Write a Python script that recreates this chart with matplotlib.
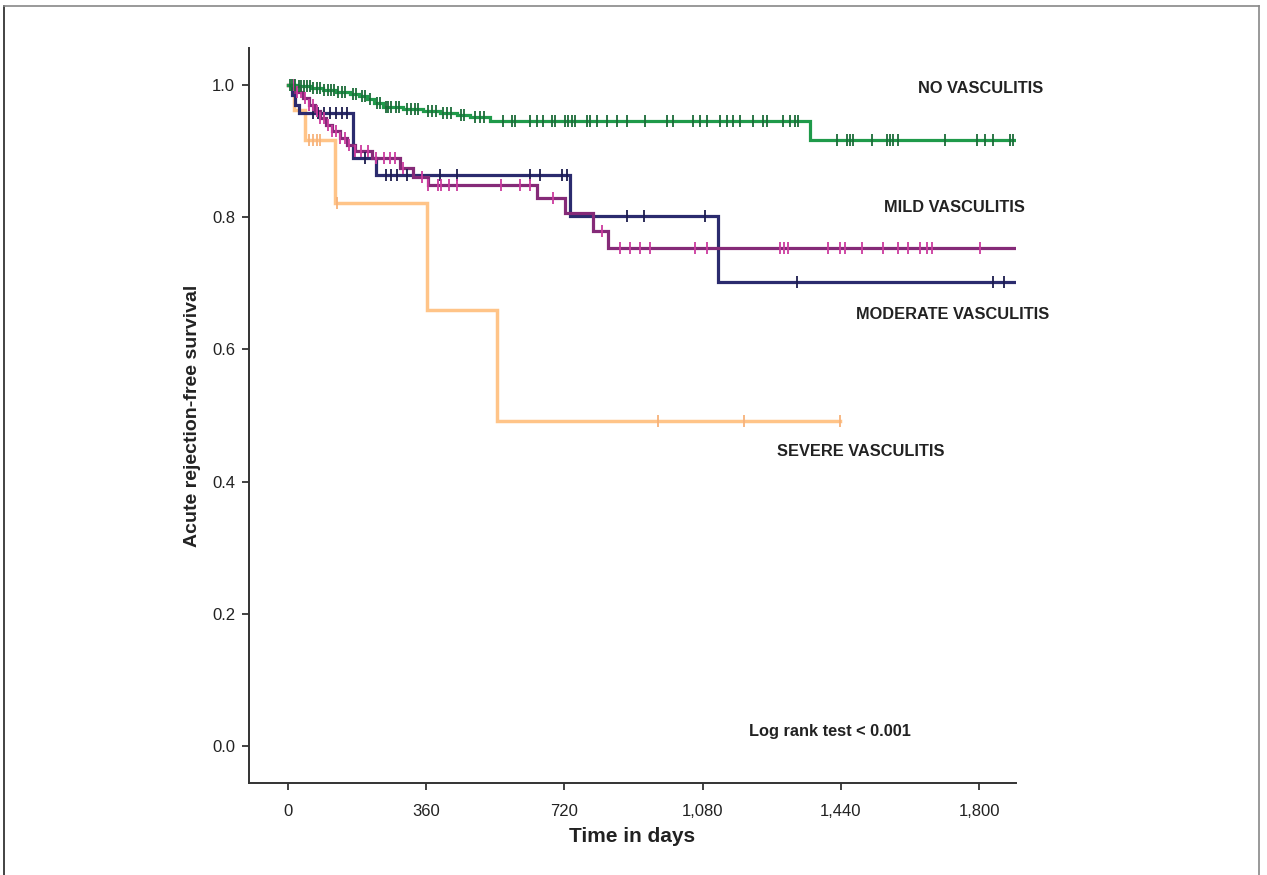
import numpy as np
import matplotlib
matplotlib.use("Agg")
import matplotlib.pyplot as plt
from matplotlib.lines import Line2D
from matplotlib import font_manager

# ---------------- data ----------------
no_t = [0, 25, 60, 91, 125, 161, 185, 206, 225, 247, 300, 352, 396, 440, 474, 526, 1360]
no_s = [1.0, 0.998, 0.996, 0.993, 0.990, 0.987, 0.983, 0.979, 0.973, 0.967, 0.964, 0.961, 0.957, 0.955, 0.951, 0.945, 0.917]
no_end = 1894
no_cens = [5, 12, 20, 28, 35, 42, 50, 58, 66, 75, 83, 95, 104, 112, 120, 132, 140, 150, 170, 178,
           192, 200, 215, 232, 240, 255, 262, 270, 282, 290, 310, 320, 330, 340, 365, 375, 385, 405,
           415, 425, 450, 460, 488, 500, 510, 560, 583, 591, 630, 649, 664, 688, 695, 722, 729, 740,
           748, 779, 787, 805, 831, 857, 883, 930, 987, 1003, 1055, 1073, 1091, 1125, 1144, 1159,
           1177, 1211, 1237, 1248, 1289, 1308, 1321, 1329, 1430, 1456, 1464, 1472, 1521, 1560, 1568,
           1576, 1589, 1711, 1795, 1816, 1836, 1881, 1889]

mild_t = [0, 20, 40, 55, 70, 85, 100, 115, 135, 155, 175, 220, 292, 326, 364, 648, 721, 795, 834]
mild_s = [1.0, 0.99, 0.98, 0.97, 0.96, 0.95, 0.94, 0.93, 0.92, 0.91, 0.90, 0.889, 0.874, 0.861, 0.849, 0.829, 0.806, 0.779, 0.753]
mild_end = 1894
mild_cens = [15, 25, 35, 45, 55, 65, 75, 85, 95, 105, 115, 125, 135, 150, 160, 175, 190, 210, 230,
             250, 265, 280, 300, 350, 365, 390, 400, 420, 440, 556, 604, 630, 690, 817, 865, 891,
             917, 943, 1060, 1091, 1282, 1292, 1302, 1407, 1438, 1451, 1495, 1550, 1589, 1615, 1646,
             1665, 1678, 1803]

mod_t = [0, 10, 20, 30, 170, 231, 734, 1121]
mod_s = [1.0, 0.985, 0.97, 0.957, 0.889, 0.864, 0.802, 0.702]
mod_end = 1894
mod_cens = [65, 80, 95, 110, 125, 140, 155, 200, 257, 270, 285, 310, 396, 440, 630, 656, 713, 726,
            883, 927, 1086, 1326, 1836, 1865]

sev_t = [0, 15, 45, 122, 362, 544]
sev_s = [1.0, 0.962, 0.917, 0.821, 0.659, 0.492]
sev_end = 1438
sev_cens = [55, 65, 75, 85, 128, 964, 1188, 1438]

x_ticks = [0, 360, 720, 1080, 1440, 1800]
x_ticklabels = ["0", "360", "720", "1,080", "1,440", "1,800"]
y_ticks = [0.0, 0.2, 0.4, 0.6, 0.8, 1.0]
y_ticklabels = ["0.0", "0.2", "0.4", "0.6", "0.8", "1.0"]

# ---------------- fonts ----------------
avail = {f.name for f in font_manager.fontManager.ttflist}
fam = [f for f in ["Liberation Sans Narrow", "Liberation Sans", "DejaVu Sans"] if f in avail]
plt.rcParams['font.family'] = fam

fig = plt.figure(figsize=(12.67, 8.75), dpi=100)
ax = fig.add_axes([0.1965, 0.1051, 0.6054, 0.84])


def km(ax, t, s, end, cens, color, tick_color, lw=2.3):
    tt = list(t) + [end]
    ss = list(s) + [s[-1]]
    ax.step(tt, ss, where='post', color=color, lw=lw, solid_joinstyle='miter', zorder=3)
    t_arr = np.array(t)
    idx = np.searchsorted(t_arr, np.array(cens), side='right') - 1
    cy = np.array(s)[idx]
    ax.plot(cens, cy, linestyle='none', marker='|', markersize=8, mew=1.3,
            color=tick_color, zorder=4)


km(ax, sev_t, sev_s, sev_end, sev_cens, '#FFC488', '#F7B27A', lw=2.5)
km(ax, mod_t, mod_s, mod_end, mod_cens, '#2B2B6E', '#1C1C4E')
km(ax, mild_t, mild_s, mild_end, mild_cens, '#852A78', '#CC3A9E')
km(ax, no_t, no_s, no_end, no_cens, '#1F9A4A', '#1B6B38')

ax.set_xlim(-101, 1896)
ax.set_ylim(-0.056, 1.056)
ax.set_xticks(x_ticks)
ax.set_xticklabels(x_ticklabels)
ax.set_yticks(y_ticks)
ax.set_yticklabels(y_ticklabels)

for sp in ['top', 'right']:
    ax.spines[sp].set_visible(False)
for sp in ['left', 'bottom']:
    ax.spines[sp].set_linewidth(1.4)
    ax.spines[sp].set_color('#333333')
ax.tick_params(axis='both', direction='out', length=5, width=1.3, color='#333333',
               labelsize=12, labelcolor='#222222')
ax.tick_params(axis='x', pad=10)
ax.tick_params(axis='y', pad=5)

ax.set_xlabel("Time in days", fontsize=15, fontweight='bold', color='#222222', labelpad=6)
ax.set_ylabel("Acute rejection-free survival", fontsize=14, fontweight='bold', color='#222222', labelpad=8)

lab_kw = dict(fontsize=11.8, fontweight='bold', color='#222222', ha='center', va='center')
ax.text(1805, 0.995, "NO VASCULITIS", **lab_kw)
ax.text(1737, 0.815, "MILD VASCULITIS", **lab_kw)
ax.text(1732, 0.653, "MODERATE VASCULITIS", **lab_kw)
ax.text(1493, 0.445, "SEVERE VASCULITIS", **lab_kw)
ax.text(1412, 0.0227, "Log rank test < 0.001", **lab_kw)

# figure border (open at bottom)
W, H = 1267, 875
fig.add_artist(Line2D([4 / W, 4 / W], [0, 1 - 6 / H], color='#222222', lw=1.2, transform=fig.transFigure))
fig.add_artist(Line2D([4 / W, 1259 / W], [1 - 6 / H, 1 - 6 / H], color='#888888', lw=1.2, transform=fig.transFigure))
fig.add_artist(Line2D([1259 / W, 1259 / W], [0, 1 - 6 / H], color='#888888', lw=1.2, transform=fig.transFigure))

fig.savefig("out.png", dpi=100)
